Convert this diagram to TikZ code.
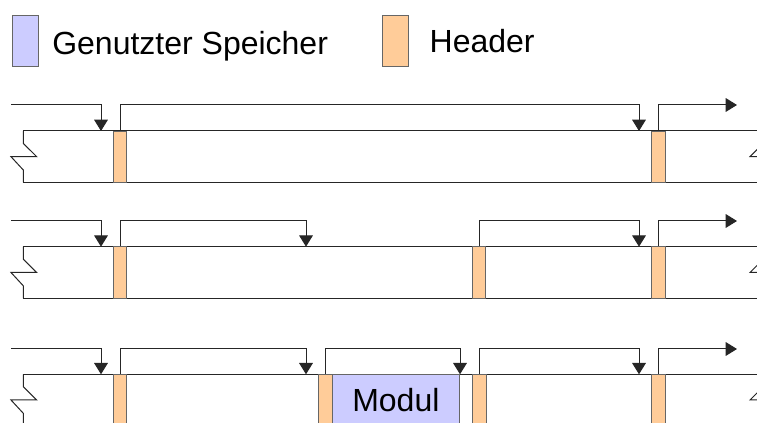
\documentclass[tikz,border=0pt]{standalone}
\usepackage{fontspec}
\setmainfont{Liberation Sans}
\usetikzlibrary{arrows.meta}
\definecolor{usedmem}{HTML}{CCCCFF}
\definecolor{hdr}{HTML}{FFCC99}
\definecolor{edge}{HTML}{666666}
\begin{document}
\begin{tikzpicture}[x=0.75pt,y=-0.75pt,
  line width=0.75pt,
  mem/.style={draw=black!85},
  link/.style={draw=black!85,-{Triangle[length=8.5pt,width=10.3pt]}},
  header/.style={rectangle,draw=edge,fill=hdr,inner sep=0pt,
    minimum width=10pt,minimum height=38.5pt},
  used/.style={rectangle,draw=edge,fill=usedmem,inner sep=0pt,
    minimum height=38.5pt,font=\fontsize{24pt}{28pt}\selectfont},
  legendbox/.style={rectangle,draw=edge,inner sep=0pt,
    minimum width=19.5pt,minimum height=38.25pt},
  legendtext/.style={anchor=base west,inner sep=0pt,
    font=\fontsize{24pt}{28pt}\selectfont}]
\useasboundingbox (0,0) rectangle (757,423);
\clip (0,0) rectangle (757,423);

% legend
\node[legendbox,fill=usedmem] (lgused) at (25.7,41.2) {};
\node[legendtext] (lgusedtxt) at (51.8,55) {Genutzter Speicher};
\node[legendbox,fill=hdr] (lghdr) at (395.7,41.2) {};
\node[legendtext] (lghdrtxt) at (429.2,52.3) {Header};

% one memory strip: top edge #1, bottom edge #2, middle #3
\newcommand{\memstrip}[3]{%
  \draw[mem] (23.3,#1) -- (763.3,#1);
  \draw[mem] (23.3,#2) -- (763.3,#2);
  \draw[mem] (23.3,#1) -- (23.3,#3-13.3) -- (36.7,#3) -- (11,#3)
             -- (23.3,#3+13.3) -- (23.3,#2);
  \draw[mem] (763.3,#1) -- (763.3,#3-13.3) -- (750,#3) -- (775.6,#3)
             -- (763.3,#3+13.3) -- (763.3,#2);
}
\memstrip{131}{182.3}{156.7}
\memstrip{246.7}{298.3}{272.5}
\memstrip{374.3}{425.6}{400}

% row 1
\node[header] (ha1) at (120,156.7) {};
\node[header] (ha2) at (658.5,156.7) {};
\coordinate (sa) at (11,105);
\coordinate (ta1) at (101,131);
\coordinate (ta2) at (639,131);
\coordinate (ea) at (737,105);
\draw[link] (sa) -| (ta1);
\draw[link] (ha1.north) -- ++(0,-26) -| (ta2);
\draw[link] (ha2.north) |- (ea);

% row 2
\node[header] (hb1) at (120,272.5) {};
\node[header] (hb2) at (479.2,272.5) {};
\node[header] (hb3) at (658.5,272.5) {};
\coordinate (sb) at (11,221);
\coordinate (tb1) at (101,246.7);
\coordinate (tb2) at (306,246.7);
\coordinate (tb3) at (639,246.7);
\coordinate (eb) at (737,221);
\draw[link] (sb) -| (tb1);
\draw[link] (hb1.north) -- ++(0,-25.7) -| (tb2);
\draw[link] (hb2.north) -- ++(0,-25.7) -| (tb3);
\draw[link] (hb3.north) |- (eb);

% row 3
\node[used,minimum width=96.2pt] (mod) at (395.85,400) {Modul};
\node[header] (hc1) at (120,400) {};
\node[header] (hc2) at (325.5,400) {};
\node[header] (hc3) at (479.5,400) {};
\node[header] (hc4) at (658.5,400) {};
\coordinate (sc) at (11,349);
\coordinate (tc1) at (101,374.3);
\coordinate (tc2) at (306,374.3);
\coordinate (tc3) at (460,374.3);
\coordinate (tc4) at (639,374.3);
\coordinate (ec) at (737,349);
\draw[link] (sc) -| (tc1);
\draw[link] (hc1.north) -- ++(0,-25.3) -| (tc2);
\draw[link] (hc2.north) -- ++(0,-25.3) -| (tc3);
\draw[link] (hc3.north) -- ++(0,-25.3) -| (tc4);
\draw[link] (hc4.north) |- (ec);
\end{tikzpicture}
\end{document}
